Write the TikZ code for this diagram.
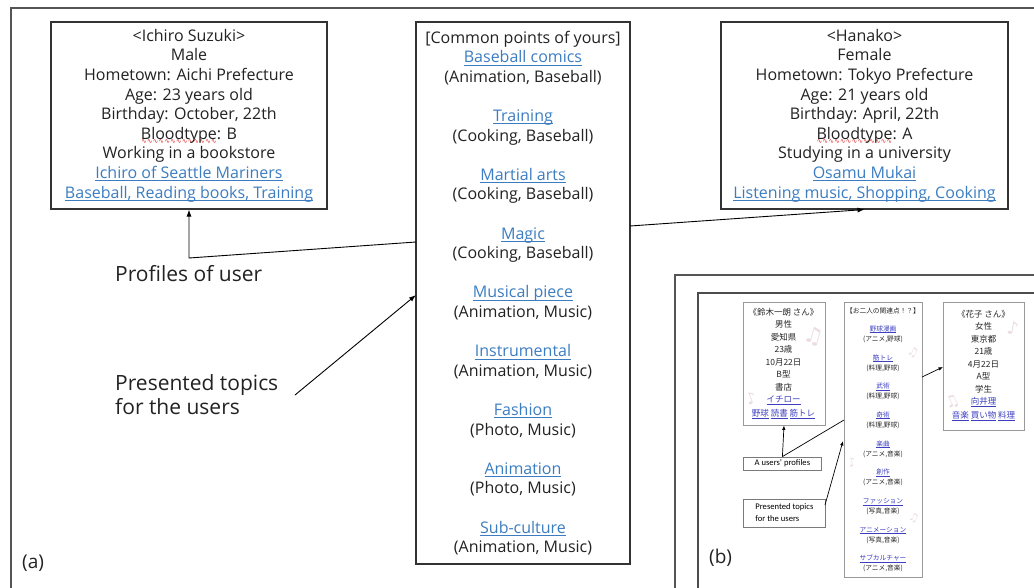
\documentclass[tikz,border=0pt]{standalone}
\usepackage{fontspec}
\setmainfont{Open Sans}
\newfontfamily\jpfont{Noto Sans CJK JP}
\newfontfamily\calfont{Carlito}
\newfontfamily\symfont{DejaVu Sans}
\usetikzlibrary{arrows.meta}

\definecolor{ink}{HTML}{222222}
\definecolor{linkblue}{HTML}{3C7DC2}
\definecolor{jplink}{HTML}{3D3FC0}
\definecolor{jpink}{HTML}{262626}
\definecolor{framegray}{HTML}{555555}
\definecolor{boxline}{HTML}{333333}
\definecolor{insetline}{HTML}{999999}
\definecolor{notepink}{HTML}{EBDCE0}
\definecolor{spellred}{HTML}{E02020}

% underlined text: #1 depth, #2 thickness, #3 text
\newcommand\ulined[3]{\setbox0\hbox{#3}\rlap{\rule[-#1]{\wd0}{#2}}\box0}
\newcommand\lk[1]{{\color{linkblue}\ulined{2.8pt}{0.9pt}{#1}}}
\newcommand\jl[1]{{\color{jplink}\ulined{1.5pt}{0.5pt}{#1}}}
% red spell-check squiggle under a word
\newcommand\spellmark[1]{\setbox0\hbox{#1}%
  \rlap{\color{spellred}\raisebox{-4.6pt}{\hbox to\wd0{\xleaders\hbox{\symfont\fontsize{6.5}{6.5}\selectfont ∿}\hfill}}}\box0}

\begin{document}
\begin{tikzpicture}[x=1pt,y=-1pt,
  every node/.style={inner sep=0pt},
  mainbox/.style={draw=boxline, line width=1.1pt, fill=white, align=center,
    font=\fontsize{16}{19.6}\selectfont, text=ink},
  biglabel/.style={font=\fontsize{21}{23.3}\selectfont, text=ink, align=left},
  conn/.style={draw=black, line width=0.9pt},
  conna/.style={conn, -{Latex[length=7pt,width=5pt]}},
  frameline/.style={draw=framegray, line width=1.6pt},
  jpbox/.style={draw=insetline, line width=0.8pt, fill=white},
  jpproftext/.style={font=\jpfont\fontsize{8.5}{12.5}\selectfont, text=jpink, align=center},
  jptopictext/.style={font=\jpfont\fontsize{6.7}{10}\selectfont, text=jpink, align=center},
  calbox/.style={draw=insetline!80!black, line width=0.8pt, fill=white,
    font=\calfont\fontsize{8.6}{12}\selectfont, text=black, align=left, inner xsep=3.5pt},
  thin/.style={draw=black, line width=0.7pt},
  thina/.style={thin, -{Latex[length=4.5pt,width=3.5pt]}},
  note/.style={text=notepink, font=\symfont\fontsize{#1}{#1}\selectfont},
  caption/.style={font=\fontsize{19}{22}\selectfont, text=ink}
]
\useasboundingbox (0,0) rectangle (1034,587);
\fill[white] (0,0) rectangle (1034,587);

% ---------- panel (a) ----------
\draw[frameline] (1036,8) -- (11,8) -- (11,590);

\node[mainbox, minimum width=276pt, minimum height=187pt] (ichiro) at (189,115.5) {%
  <Ichiro Suzuki>\\
  Male\\
  Hometown: Aichi Prefecture\\
  Age: 23 years old\\
  Birthday: October, 22th\\
  \spellmark{Bloodtype}: B\\
  Working in a bookstore\\
  \lk{Ichiro of Seattle Mariners}\\
  \lk{Baseball, Reading books, Training}};

\node[mainbox, minimum width=287pt, minimum height=187pt] (hanako) at (864.5,115.5) {%
  <Hanako>\\
  Female\\
  Hometown: Tokyo Prefecture\\
  Age: 21 years old\\
  Birthday: April, 22th\\
  \spellmark{Bloodtype}: A\\
  Studying in a university\\
  \lk{Osamu Mukai}\\
  \lk{Listening music, Shopping, Cooking}};

\node[mainbox, minimum width=214pt, minimum height=542pt] (common) at (523,293) {%
  [Common points of yours]\\
  \lk{Baseball comics}\\ (Animation, Baseball)\\[19.6pt]
  \lk{Training}\\ (Cooking, Baseball)\\[19.6pt]
  \lk{Martial arts}\\ (Cooking, Baseball)\\[19.6pt]
  \lk{Magic}\\ (Cooking, Baseball)\\[19.6pt]
  \lk{Musical piece}\\ (Animation, Music)\\[19.6pt]
  \lk{Instrumental}\\ (Animation, Music)\\[19.6pt]
  \lk{Fashion}\\ (Photo, Music)\\[19.6pt]
  \lk{Animation}\\ (Photo, Music)\\[19.6pt]
  \lk{Sub-culture}\\ (Animation, Music)};

\node[biglabel, anchor=west] (profiles) at (115,274) {Profiles of user};
\node[biglabel, anchor=west] (topics) at (115,394.5) {Presented topics\\for the users};
\node[caption, anchor=west] (capa) at (22,563) {(a)};

\coordinate (commonL) at (416,242);
\coordinate (elbow) at (189,258);
\coordinate (commonR) at (630,226);
\coordinate (commonT) at (416,295);
\coordinate (topicsEnd) at (295,395);

\draw[conna] (commonL) -- (elbow) -- (ichiro.south);
\draw[conna] (commonR) -- (hanako.south);
\draw[conna] (topicsEnd) -- (commonT);

% ---------- panel (b) ----------
\draw[frameline] (1036,275) -- (675,275) -- (675,590);
\draw[draw=framegray!90!black, line width=1.2pt] (1036,293) -- (698,293) -- (698,590);

\node[jpbox, minimum width=82pt, minimum height=123pt] (jpsuzuki) at (784,363.5) {};
\node[jpbox, minimum width=78pt, minimum height=275pt] (jpcommon) at (883,439.5) {};
\node[jpbox, minimum width=81pt, minimum height=128pt] (jphanako) at (983.5,366) {};

% faint music notes behind the inset pages
\node[note=22, rotate=-15] at (814,336) {♫};
\node[note=16, rotate=20] at (751,398) {♪};
\node[note=12, rotate=-25] at (913,352) {♫};
\node[note=12, rotate=15] at (852,462) {♪};
\node[note=11, rotate=-20] at (914,518) {♫};
\node[note=18, rotate=-10] at (1013,328) {♪};
\node[note=16, rotate=25] at (952,402) {♫};

\node[jpproftext] (suzukitext) at (783.5,363) {%
  《鈴木一朗 さん》\\男性\\愛知県\\23歳\\10月22日\\B型\\書店\\
  \jl{イチロー}\\[1.5pt]\jl{野球} \jl{読書} \jl{筋トレ}};

\node[jptopictext] (commontext) at (883,440) {%
  【お二人の関連点！？】\\[8pt]
  \jl{野球漫画}\\(アニメ,野球)\\[8.7pt]
  \jl{筋トレ}\\(料理,野球)\\[8.7pt]
  \jl{武術}\\(料理,野球)\\[8.7pt]
  \jl{奇術}\\(料理,野球)\\[8.7pt]
  \jl{楽曲}\\(アニメ,音楽)\\[8.7pt]
  \jl{創作}\\(アニメ,音楽)\\[8.7pt]
  \jl{ファッション}\\(写真,音楽)\\[8.7pt]
  \jl{アニメーション}\\(写真,音楽)\\[8.7pt]
  \jl{サブカルチャー}\\(アニメ,音楽)};

\node[jpproftext] (hanakotext) at (983.5,365) {%
  《花子 さん》\\女性\\東京都\\21歳\\4月22日\\A型\\学生\\
  \jl{向井理}\\[1.5pt]\jl{音楽} \jl{買い物} \jl{料理}};

\node[calbox, minimum width=78pt, minimum height=13pt, anchor=west] (jpusers) at (743,463.5) {A users’ profiles};
\node[calbox, minimum width=82pt, minimum height=28pt, anchor=west] (jptopics) at (743,513) {Presented topics\\for the users};
\node[caption, anchor=west] (capb) at (709,558) {(b)};

\coordinate (jpcommonL) at (844,420);
\coordinate (jpcommonT) at (843,441);
\coordinate (jptopicsR) at (825,505);
\coordinate (jpcommonR) at (922,377);
\coordinate (jphanakoL) at (943,367);

\draw[thina] (jpusers.north) -- (jpsuzuki.south);
\draw[thin] (jpusers.north) -- (jpcommonL);
\draw[thina] (jptopicsR) -- (jpcommonT);
\draw[thina] (jpcommonR) -- (jphanakoL);
\end{tikzpicture}
\end{document}
